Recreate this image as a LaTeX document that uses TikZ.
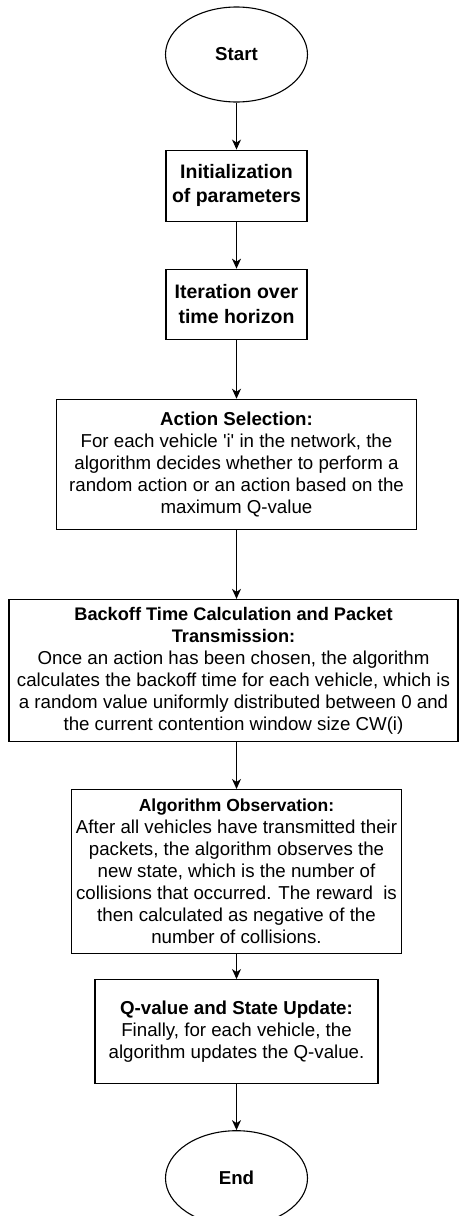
\documentclass[tikz,border=0pt]{standalone}
\usepackage{fontspec}
\setmainfont{Liberation Sans}
\usetikzlibrary{positioning,shapes.geometric,arrows.meta}
\tikzset{termnode/.style={ellipse, draw, line width=1.1pt,
                          minimum width=142pt, minimum height=95pt, inner sep=0pt,
                          font=\fontsize{18.7}{22}\selectfont\bfseries}}
\tikzset{titlebox/.style={rectangle, draw, line width=1.1pt,
                          minimum width=141pt, minimum height=71pt, inner sep=0pt,
                          align=center, font=\fontsize{19.5}{24.5}\selectfont\bfseries}}
\tikzset{textbox/.style={rectangle, draw, line width=1.1pt, inner sep=0pt,
                         align=center, font=\fontsize{18.7}{22}\selectfont}}
\tikzset{flowarrow/.style={line width=1.1pt, -{Stealth[length=10pt,width=9pt,inset=3pt]}}}

\begin{document}
\begin{tikzpicture}
\useasboundingbox (0,0) rectangle (459pt,-1216pt);
\node [termnode] (start) at (236.5pt,-54.5pt) {Start};
\node [titlebox, below=47pt of start] (init) {Initialization\\of parameters};
\node [titlebox, minimum height=70pt, below=47pt of init] (iter) {Iteration over\\time horizon};
\node [textbox, minimum width=360pt, minimum height=130pt, below=59pt of iter] (action) {%
    \textbf{Action Selection:}\\
    For each vehicle \textquotesingle i\textquotesingle{} in the network, the\\
    algorithm decides whether to perform a\\
    random action or an action based on the\\
    maximum Q-value};
\node [textbox, minimum width=449pt, minimum height=142pt, below=69pt of action, xshift=-3pt] (backoff) {%
    \textbf{\fontsize{18.2}{22}\selectfont Backoff Time Calculation and Packet}\\
    \textbf{\fontsize{18.2}{22}\selectfont Transmission:}\\
    Once an action has been chosen, the algorithm\\
    calculates the backoff time for each vehicle, which is\\
    a random value uniformly distributed between 0 and\\
    the current contention window size CW(i)};
\node [textbox, minimum width=330pt, minimum height=164pt, below=47pt of backoff, xshift=3pt] (observe) {%
    \textbf{\fontsize{17.5}{22}\selectfont Algorithm Observation:}\\
    After all vehicles have transmitted their\\
    packets, the algorithm observes the\\
    new state, which is the number of\\
    collisions that occurred. The reward\ \ is\\
    then calculated as negative of the\\
    number of collisions.};
\node [textbox, minimum width=283pt, minimum height=104pt, below=25pt of observe] (update) {%
    \textbf{Q-value and State Update:}\\
    Finally, for each vehicle, the\\
    algorithm updates the Q-value.};
\node [termnode, below=46pt of update] (finish) {End};

% connectors
\draw [flowarrow] (start) -- (init);
\draw [flowarrow] (init) -- (iter);
\draw [flowarrow] (iter) -- (action);
\draw [flowarrow] (action) -- (action|-backoff.north);
\draw [flowarrow] (action|-backoff.south) -- (observe);
\draw [flowarrow] (observe) -- (update);
\draw [flowarrow] (update) -- (finish);
\end{tikzpicture}
\end{document}
